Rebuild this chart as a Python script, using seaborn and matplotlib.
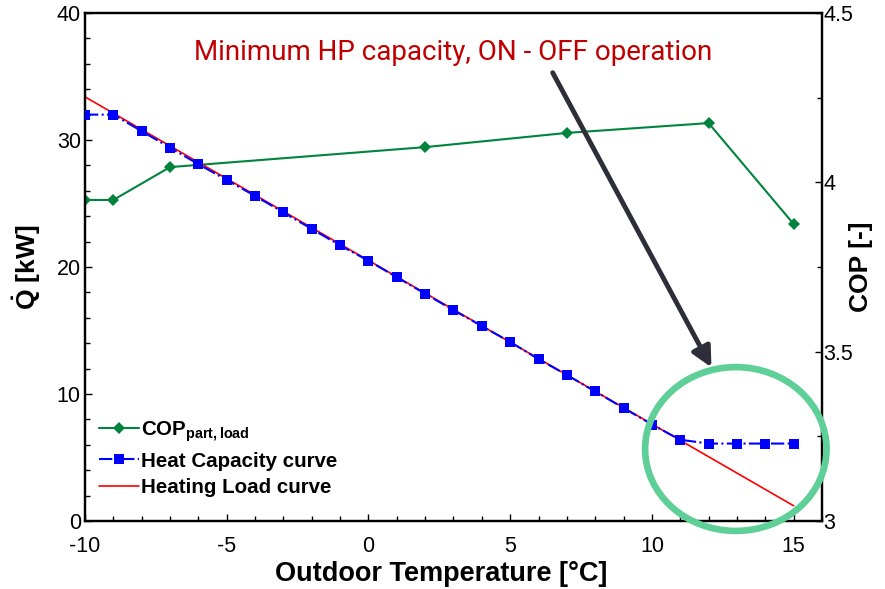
import numpy as np
import pandas as pd
import matplotlib
matplotlib.use("Agg")
import matplotlib.pyplot as plt
from matplotlib.patches import Ellipse
from matplotlib.ticker import MultipleLocator, FormatStrFormatter
import seaborn as sns

# Outdoor temperatures [°C]
temp = [-10, -9, -8, -7, -6, -5, -4, -3, -2, -1, 0, 1, 2, 3, 4, 5, 6, 7, 8, 9, 10, 11, 12, 13, 14, 15]

# Heat pump capacity [kW] (limited to the minimum capacity above 11 °C)
capacity = [32.0, 32.0, 30.7, 29.4, 28.1, 26.85, 25.6, 24.3, 23.0, 21.7, 20.5, 19.2, 17.9,
            16.6, 15.35, 14.1, 12.75, 11.5, 10.2, 8.9, 7.6, 6.4, 6.1, 6.1, 6.1, 6.1]

# Building heating load [kW]
load_temp = [-10, 15]
load = [33.4, 1.2]

# Part-load COP [-]
cop_temp = [-10, -9, -7, 2, 7, 12, 15]
cop = [3.948, 3.948, 4.045, 4.104, 4.146, 4.175, 3.877]

sns.set_style("white")
plt.rcParams["font.family"] = ["Liberation Sans", "DejaVu Sans"]
plt.rcParams["mathtext.fontset"] = "custom"
plt.rcParams["mathtext.rm"] = "Liberation Sans"
plt.rcParams["mathtext.it"] = "Liberation Sans:italic"
plt.rcParams["mathtext.bf"] = "Liberation Sans:bold"
plt.rcParams["axes.unicode_minus"] = False
for key in ("text.color", "axes.labelcolor", "xtick.color", "ytick.color"):
    plt.rcParams[key] = "black"

fig = plt.figure(figsize=(8.85, 5.89), dpi=100)
ax = fig.add_axes([0.0960, 0.1154, 0.8328, 0.8625])
ax2 = ax.twinx()

sns.lineplot(x=load_temp, y=load, ax=ax, color="#ff0000", lw=1.2,
             label="Heating Load curve", zorder=2, legend=False)
sns.lineplot(x=temp, y=capacity, ax=ax, color="#0000ff", lw=1.5, linestyle="-.",
             marker="s", markersize=6.5, markeredgewidth=0, label="Heat Capacity curve",
             zorder=3, legend=False)
sns.lineplot(x=cop_temp, y=cop, ax=ax2, color="#00843d", lw=1.5,
             marker="D", markersize=6, markeredgewidth=0,
             label=r"COP$_{\mathbf{part,load}}$", legend=False)

ax.set_xlim(-10, 16)
ax.set_ylim(0, 40)
ax2.set_ylim(3, 4.5)

ax.xaxis.set_major_locator(MultipleLocator(5))
ax.xaxis.set_minor_locator(MultipleLocator(1))
ax.yaxis.set_major_locator(MultipleLocator(10))
ax.yaxis.set_minor_locator(MultipleLocator(2))
ax2.yaxis.set_major_locator(MultipleLocator(0.5))
ax2.yaxis.set_minor_locator(MultipleLocator(0.25))
ax2.yaxis.set_major_formatter(FormatStrFormatter("%g"))

for a in (ax, ax2):
    for s in a.spines.values():
        s.set_linewidth(1.6)
        s.set_color("black")
    a.tick_params(which="major", direction="in", length=5, width=1, labelsize=15.5, colors="black")
    a.tick_params(which="minor", direction="in", length=3.5, width=1, colors="black")
ax.tick_params(axis="both", which="both", top=False, right=False)
ax.tick_params(axis="x", which="both", bottom=True)
ax.tick_params(axis="x", which="major", pad=11)
ax.tick_params(axis="y", which="both", left=True)
ax.tick_params(axis="y", which="major", pad=3)
ax2.tick_params(axis="y", which="both", right=True, left=False)
ax2.tick_params(axis="y", which="major", pad=1)

ax.set_xlabel("Outdoor Temperature [°C]", fontsize=19.5, fontweight="bold", color="black")
ax.xaxis.set_label_coords(0.484, -0.079)
ax.set_ylabel(r"$\mathbf{\dot{Q}}$ [kW]", fontsize=19, fontweight="bold", labelpad=10, color="black")
ax2.set_ylabel("COP [-]", fontsize=19, fontweight="bold", color="black")
ax2.yaxis.set_label_coords(1.036, 0.5)

# Annotation of the minimum-capacity (ON-OFF) region
ax.text(3.0, 36.9, "Minimum HP capacity, ON - OFF operation", color="#c00000",
        fontsize=20, family=["Roboto", "DejaVu Sans"], ha="center", va="center")
ax.annotate("", xy=(12.1, 12.1), xytext=(6.5, 35.3),
            arrowprops=dict(arrowstyle="-|>", lw=3.5, color="#2e2e3a",
                            mutation_scale=30, shrinkA=0, shrinkB=0))
ax.add_patch(Ellipse((12.96, 5.67), 6.4, 12.9, fill=False, edgecolor="#5ecf96",
                     lw=4.8, clip_on=False, zorder=5))

h1, l1 = ax2.get_legend_handles_labels()
h0, l0 = ax.get_legend_handles_labels()
leg = ax.legend([h1[0], h0[1], h0[0]], [l1[0], l0[1], l0[0]],
                loc="lower left", bbox_to_anchor=(-0.006, 0.01), frameon=False,
                prop={"weight": "bold", "size": 14.8}, handlelength=1.95,
                handletextpad=0.1, labelspacing=0.38)
for t in leg.get_texts():
    t.set_color("black")
ax.set_zorder(ax2.get_zorder() + 1)
ax.patch.set_visible(False)

fig.savefig("out.png", dpi=100)
